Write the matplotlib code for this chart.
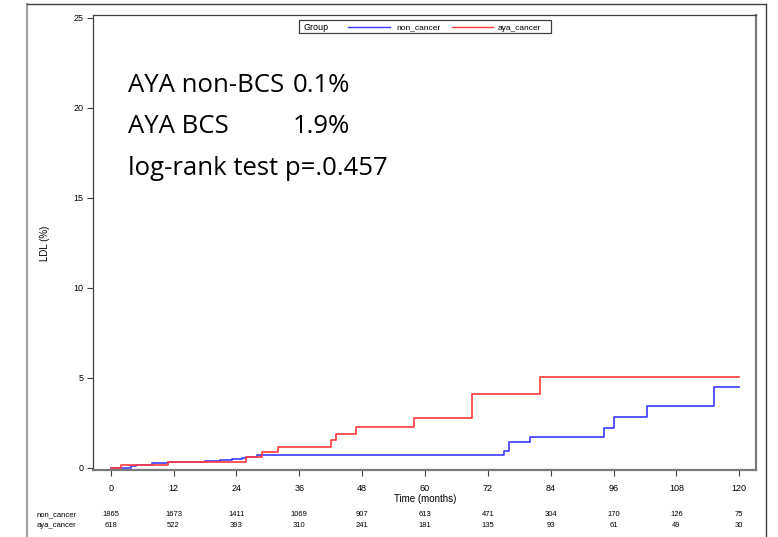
import numpy as np
import matplotlib.pyplot as plt
from matplotlib.lines import Line2D
from matplotlib.patches import Rectangle

# cumulative incidence steps (months, %)
non_t = [0, 3.9, 4.9, 7.9, 10.9, 18.0, 20.8, 23.1, 25.0, 25.9, 28.0,
         75.0, 76.0, 80.1, 94.1, 96.1, 102.3, 115.1, 120]
non_y = [0, 0.09, 0.15, 0.24, 0.31, 0.36, 0.43, 0.50, 0.56, 0.62, 0.70,
         0.94, 1.44, 1.71, 2.22, 2.80, 3.45, 4.48, 4.48]
aya_t = [0, 1.9, 10.9, 25.9, 28.9, 32.0, 42.0, 43.0, 46.9, 58.0, 69.0, 82.0, 120]
aya_y = [0, 0.15, 0.33, 0.61, 0.89, 1.17, 1.54, 1.87, 2.28, 2.78, 4.08, 5.02, 5.02]

# numbers at risk
risk_times = [0, 12, 24, 36, 48, 60, 72, 84, 96, 108, 120]
risk_non = [1865, 1673, 1411, 1069, 907, 613, 471, 304, 170, 126, 75]
risk_aya = [618, 522, 393, 310, 241, 181, 135, 93, 61, 49, 30]

W, H = 778, 537
fig = plt.figure(figsize=(W / 100, H / 100), dpi=100)
plt.rcParams['font.family'] = ['Liberation Sans', 'DejaVu Sans']

def fx(px):
    return px / W

def fy(py):
    return 1 - py / H

# outer frame
fig.add_artist(Line2D([fx(27), fx(27)], [fy(4), -0.1], color='#a0a0a0', lw=1.6))
fig.add_artist(Line2D([fx(27), fx(766)], [fy(4), fy(4)], color='#404040', lw=1.0))
fig.add_artist(Line2D([fx(766), fx(766)], [fy(4), -0.1], color='#404040', lw=1.0))

ax = fig.add_axes([fx(93), fy(470), fx(756) - fx(93), fy(15) - fy(470)])
ax.set_xlim(-3.38, 123.2)
ax.set_ylim(-0.13, 25.15)

ax.step(non_t, non_y, where='post', color='#3a3aff', lw=1.2)
ax.step(aya_t, aya_y, where='post', color='#ff3a3a', lw=1.2)

ax.set_xticks(risk_times)
ax.set_yticks([0, 5, 10, 15, 20, 25])
ax.tick_params(labelsize=6.5, length=4, width=0.8, color='#404040', pad=3)
ax.tick_params(axis='x', pad=6)
for side in ['left', 'top']:
    ax.spines[side].set_color('#404040')
    ax.spines[side].set_linewidth(0.9)
for side in ['right', 'bottom']:
    ax.spines[side].set_color('#7a7a7a')
    ax.spines[side].set_linewidth(1.6)

fig.text(fx(425), fy(499), 'Time (months)', ha='center', va='center', fontsize=7)
fig.text(fx(45), fy(243), 'LDL (%)', ha='center', va='center', rotation=90, fontsize=7)

# legend box
fig.add_artist(Rectangle((fx(299), fy(33)), fx(551) - fx(299), fy(20) - fy(33),
                         fill=False, edgecolor='#404040', lw=0.9))
fig.text(fx(303), fy(29.5), 'Group', ha='left', va='baseline', fontsize=6.5)
fig.add_artist(Line2D([fx(348), fx(390)], [fy(27), fy(27)], color='#3a3aff', lw=1.0))
fig.text(fx(396), fy(29.5), 'non_cancer', ha='left', va='baseline', fontsize=6)
fig.add_artist(Line2D([fx(452), fx(493)], [fy(27), fy(27)], color='#ff3a3a', lw=1.0))
fig.text(fx(498), fy(29.5), 'aya_cancer', ha='left', va='baseline', fontsize=6)

# annotation text
big = dict(fontsize=18.5, family=['Open Sans', 'DejaVu Sans'], va='baseline', ha='left')
fig.text(fx(128), fy(91.7), 'AYA non-BCS', **big)
fig.text(fx(292.7), fy(91.7), '0.1%', **big)
fig.text(fx(128), fy(133.3), 'AYA BCS', **big)
fig.text(fx(292.7), fy(133.3), '1.9%', **big)
fig.text(fx(128), fy(175), 'log-rank test p=.0.457', **big)

# at-risk table
fig.text(fx(37), fy(515), 'non_cancer', ha='left', va='center', fontsize=5.5)
fig.text(fx(37), fy(525.5), 'aya_cancer', ha='left', va='center', fontsize=5.5)
for t, a, b in zip(risk_times, risk_non, risk_aya):
    ax.annotate(str(a), xy=(t, 0), xycoords=('data', 'figure fraction'),
                xytext=(0, fy(515) * H), textcoords='offset pixels',
                ha='center', va='center', fontsize=5.5)
    ax.annotate(str(b), xy=(t, 0), xycoords=('data', 'figure fraction'),
                xytext=(0, fy(525.5) * H), textcoords='offset pixels',
                ha='center', va='center', fontsize=5.5)

fig.savefig('out.png', dpi=100)
